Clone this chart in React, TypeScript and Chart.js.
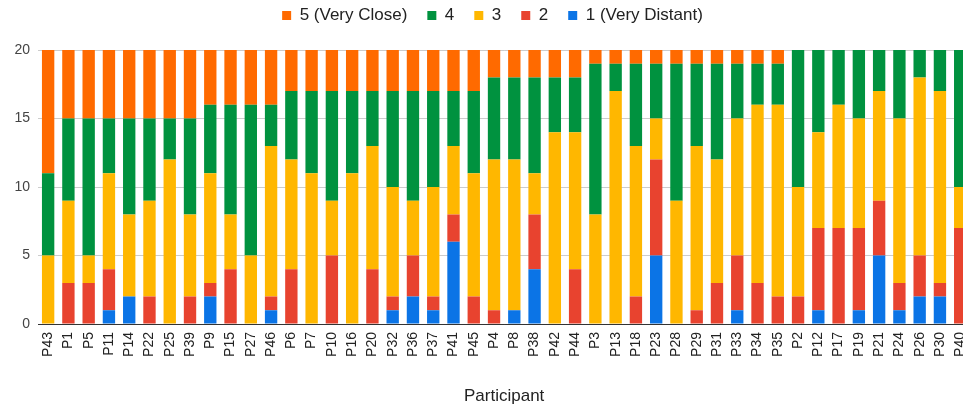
import React, { useEffect, useRef } from "react";
import { Chart, registerables } from "chart.js";

Chart.register(...registerables);

const participants = [
  "P43", "P1", "P5", "P11", "P14", "P22", "P25", "P39", "P9", "P15", "P27", "P46",
  "P6", "P7", "P10", "P16", "P20", "P32", "P36", "P37", "P41", "P45", "P4", "P8",
  "P38", "P42", "P44", "P3", "P13", "P18", "P23", "P28", "P29", "P31", "P33", "P34",
  "P35", "P2", "P12", "P17", "P19", "P21", "P24", "P26", "P30", "P40",
];

const veryDistant1 = [0, 0, 0, 1, 2, 0, 0, 0, 2, 0, 0, 1, 0, 0, 0, 0, 0, 1, 2, 1, 6, 0, 0, 1, 4, 0, 0, 0, 0, 0, 5, 0, 0, 0, 1, 0, 0, 0, 1, 0, 1, 5, 1, 2, 2, 0];
const level2 = [0, 3, 3, 3, 0, 2, 0, 2, 1, 4, 0, 1, 4, 0, 5, 0, 4, 1, 3, 1, 2, 2, 1, 0, 4, 0, 4, 0, 0, 2, 7, 0, 1, 3, 4, 3, 2, 2, 6, 7, 6, 4, 2, 3, 1, 7];
const level3 = [5, 6, 2, 7, 6, 7, 12, 6, 8, 4, 5, 11, 8, 11, 4, 11, 9, 8, 4, 8, 5, 9, 11, 11, 3, 14, 10, 8, 17, 11, 3, 9, 12, 9, 10, 13, 14, 8, 7, 9, 8, 8, 12, 13, 14, 3];
const level4 = [6, 6, 10, 4, 7, 6, 3, 7, 5, 8, 11, 3, 5, 6, 8, 6, 4, 7, 8, 7, 4, 6, 6, 6, 7, 4, 4, 11, 2, 6, 4, 10, 6, 7, 4, 3, 3, 10, 6, 4, 5, 3, 5, 2, 3, 10];
const veryClose5 = [9, 5, 5, 5, 5, 5, 5, 5, 4, 4, 4, 4, 3, 3, 3, 3, 3, 3, 3, 3, 3, 3, 2, 2, 2, 2, 2, 1, 1, 1, 1, 1, 1, 1, 1, 1, 1, 0, 0, 0, 0, 0, 0, 0, 0, 0];

const seriesLabels = ["1 (Very Distant)", "2", "3", "4", "5 (Very Close)"];
const seriesColors = ["#0b74e6", "#e8432f", "#ffb700", "#00923f", "#ff6a00"];
const yTicks = [0, 5, 10, 15, 20];

const FONT = "Arial, 'Liberation Sans', sans-serif";
const W = 985;
const H = 407;

const legendMargin = {
  id: "legendMargin",
  beforeLayout(chart: any) {
    const legend = chart.legend;
    if (legend && !legend._patched) {
      const orig = legend.fit;
      legend.fit = function () {
        orig.call(this);
        this.height += 16;
      };
      legend._patched = true;
    }
  },
};

export default function App() {
  const ref = useRef<HTMLCanvasElement>(null);

  useEffect(() => {
    document.body.style.margin = "0";
    document.body.style.overflow = "hidden";
    document.documentElement.style.overflow = "hidden";
    const canvas = ref.current!;
    const values = [veryDistant1, level2, level3, level4, veryClose5];
    const chart = new Chart(canvas, {
      type: "bar",
      data: {
        labels: participants,
        datasets: values.map((v, i) => ({
          label: seriesLabels[i],
          data: v,
          backgroundColor: seriesColors[i],
          borderWidth: 0,
          categoryPercentage: 1,
          barPercentage: 0.61,
        })),
      },
      options: {
        animation: false,
        responsive: false,
        devicePixelRatio: 1,
        layout: { padding: { top: -13, left: 0, right: 0, bottom: 0 } },
        plugins: {
          legend: {
            position: "top",
            reverse: true,
            labels: {
              boxWidth: 9,
              boxHeight: 9,
              padding: 20,
              color: "#222",
              font: { family: FONT, size: 17 },
            },
          },
          tooltip: { enabled: false },
        },
        scales: {
          x: {
            stacked: true,
            grid: { display: false, drawTicks: false },
            border: { display: true, color: "#333", width: 1 },
            ticks: {
              autoSkip: false,
              minRotation: 90,
              maxRotation: 90,
              padding: 8,
              color: "#222",
              font: { family: FONT, size: 14 },
            },
            title: {
              display: true,
              text: "Participant",
              color: "#222",
              padding: 0,
              font: { family: FONT, size: 17 },
            },
            afterFit(scale: any) {
              scale.height = 83;
            },
          },
          y: {
            stacked: true,
            min: 0,
            max: 20,
            afterBuildTicks(scale: any) {
              scale.ticks = yTicks.map((v) => ({ value: v }));
            },
            grid: {
              drawTicks: false,
              color: (ctx: any) => (ctx.tick && ctx.tick.value === 0 ? "#333" : "#cccccc"),
            },
            border: { display: false },
            ticks: {
              padding: 8,
              color: "#444",
              font: { family: FONT, size: 14 },
            },
            afterFit(scale: any) {
              scale.width = 38;
            },
          },
        },
      },
      plugins: [legendMargin],
    });
    return () => chart.destroy();
  }, []);

  return (
    <div style={{ width: W, height: H }}>
      <canvas ref={ref} width={W} height={H} style={{ display: "block", width: W, height: H }} />
    </div>
  );
}
